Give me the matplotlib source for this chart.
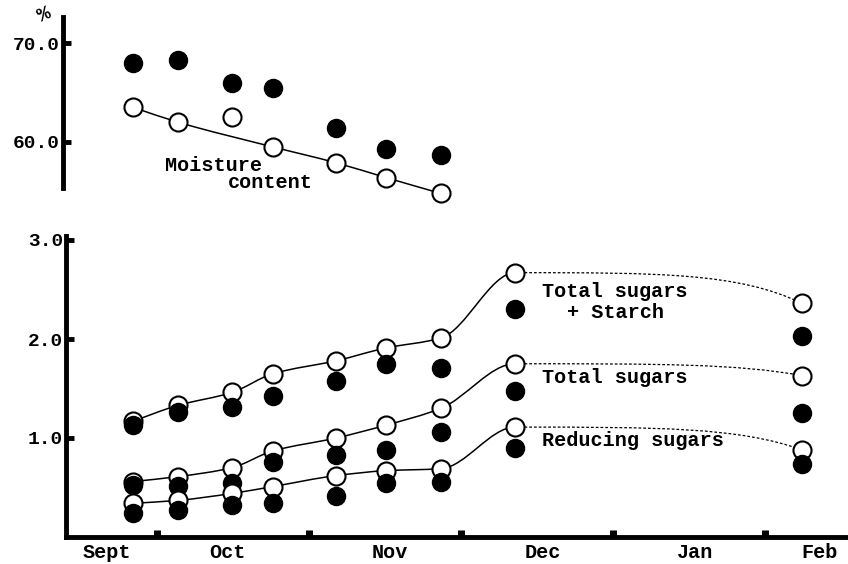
import numpy as np
import matplotlib
matplotlib.use("Agg")
import matplotlib.pyplot as plt
from matplotlib.path import Path
from matplotlib.patches import PathPatch

plt.rcParams['font.family'] = ['Liberation Mono', 'DejaVu Sans Mono']
plt.rcParams['font.weight'] = 'bold'

# x positions in "month" units: 1 = start of Oct, 2 = Nov, ... 5 = Feb
x_pts = [0.842, 1.138, 1.493, 1.763, 2.178, 2.507, 2.868]
x_late = [3.355, 5.243]   # Dec and Feb samples

moist_open = [63.5, 62.0, 62.5, 59.5, 57.9, 56.4, 54.8]
moist_fill = [68.0, 68.3, 66.0, 65.5, 61.4, 59.3, 58.7]

starch_open = [1.17, 1.33, 1.46, 1.65, 1.78, 1.91, 2.01, 2.67, 2.36]
starch_fill = [1.13, 1.26, 1.31, 1.42, 1.58, 1.75, 1.71, 2.30, 2.03]
total_open = [0.56, 0.61, 0.70, 0.87, 1.00, 1.13, 1.30, 1.75, 1.63]
total_fill = [0.53, 0.52, 0.55, 0.76, 0.83, 0.88, 1.06, 1.47, 1.25]
reduc_open = [0.34, 0.37, 0.44, 0.51, 0.62, 0.67, 0.69, 1.11, 0.88]
reduc_fill = [0.24, 0.27, 0.32, 0.34, 0.41, 0.55, 0.56, 0.90, 0.74]

months = ['Sept', 'Oct', 'Nov', 'Dec', 'Jan', 'Feb']
month_label_x = [0.671, 1.461, 2.533, 3.539, 4.539, 5.362]
month_bounds = [1, 2, 3, 4, 5]


def smooth_path(xs, ys, end_slope=None):
    # monotone cubic (pchip style) drawn as bezier segments
    xs = np.asarray(xs, float)
    ys = np.asarray(ys, float)
    h = np.diff(xs)
    s = np.diff(ys) / h
    d = np.zeros(len(xs))
    d[0] = s[0]
    d[-1] = s[-1] if end_slope is None else end_slope
    for i in range(1, len(xs) - 1):
        if s[i - 1] * s[i] <= 0:
            d[i] = 0
        else:
            w1 = 2 * h[i] + h[i - 1]
            w2 = h[i] + 2 * h[i - 1]
            d[i] = (w1 + w2) / (w1 / s[i - 1] + w2 / s[i])
    verts = [(xs[0], ys[0])]
    codes = [Path.MOVETO]
    for i in range(len(xs) - 1):
        verts += [(xs[i] + h[i] / 3, ys[i] + d[i] * h[i] / 3),
                  (xs[i + 1] - h[i] / 3, ys[i + 1] - d[i + 1] * h[i] / 3),
                  (xs[i + 1], ys[i + 1])]
        codes += [Path.CURVE4] * 3
    return Path(verts, codes)


def drop_path(x0, y0, x1, y1):
    dx = x1 - x0
    verts = [(x0, y0), (x0 + 0.5 * dx, y0), (x0 + 0.78 * dx, y0), (x1, y1)]
    return Path(verts, [Path.MOVETO] + [Path.CURVE4] * 3)


fig = plt.figure(figsize=(8.48, 5.64), dpi=100)
left = 66 / 848
width = 782 / 848
ax = fig.add_axes([left, 1 - 537 / 564, width, 3.05 * 99 / 564])
ax_top = fig.add_axes([left, 1 - 201.4 / 564, width, 19 * 9.9 / 564])

ms = 13
mew = 1.5
spine_w = 3.5

# ---- lower panel: sugars
xs_all = x_pts + x_late
for op, fi in [(starch_open, starch_fill), (total_open, total_fill), (reduc_open, reduc_fill)]:
    ax.add_patch(PathPatch(smooth_path(xs_all[:8], op[:8], end_slope=0.0),
                           fill=False, lw=1.1, color='black', zorder=2))
    ax.add_patch(PathPatch(drop_path(xs_all[7], op[7], xs_all[8], op[8]),
                           fill=False, lw=0.9, color='black',
                           linestyle=(0, (2.2, 1.6)), zorder=2))
    ax.plot(xs_all, op, 'o', ms=ms, mfc='white', mec='black', mew=mew,
            zorder=3, clip_on=False)
    ax.plot(xs_all, fi, 'o', ms=ms, color='black', zorder=3, clip_on=False)

ax.set_xlim(0.401, 5.546)
ax.set_ylim(0, 3.05)
for sp in ['top', 'right']:
    ax.spines[sp].set_visible(False)
ax.spines['left'].set_linewidth(spine_w)
ax.spines['bottom'].set_linewidth(spine_w)
ax.spines['left'].set_bounds(0, 3.04)
ax.set_yticks([1.0, 2.0, 3.0])
ax.set_yticklabels(['1.0', '2.0', '3.0'])
ax.tick_params(axis='y', direction='in', length=6, width=3.5, pad=2, labelsize=14)
ax.set_xticks(month_bounds)
ax.set_xticklabels([])
ax.tick_params(axis='x', which='major', direction='in', length=5, width=5)
ax.set_xticks(month_label_x, minor=True)
ax.set_xticklabels(months, minor=True)
ax.tick_params(axis='x', which='minor', length=0, pad=4, labelsize=14.5)

ax.text(3.533, 2.475, 'Total sugars', fontsize=14.5, va='center', ha='left')
ax.text(3.697, 2.263, '+ Starch', fontsize=14.5, va='center', ha='left')
ax.text(3.533, 1.616, 'Total sugars', fontsize=14.5, va='center', ha='left')
ax.text(3.533, 0.970, 'Reducing sugars', fontsize=14.5, va='center', ha='left')

# ---- upper panel: moisture
line_idx = [0, 1, 3, 4, 5, 6]
ax_top.add_patch(PathPatch(smooth_path([x_pts[i] for i in line_idx],
                                       [moist_open[i] for i in line_idx]),
                           fill=False, lw=1.1, color='black', zorder=2))
ax_top.plot(x_pts, moist_open, 'o', ms=ms, mfc='white', mec='black', mew=mew,
            zorder=3, clip_on=False)
ax_top.plot(x_pts, moist_fill, 'o', ms=ms, color='black', zorder=3, clip_on=False)
ax_top.set_xlim(0.401, 5.546)
ax_top.set_ylim(54, 73)
for sp in ['top', 'right', 'bottom']:
    ax_top.spines[sp].set_visible(False)
ax_top.spines['left'].set_linewidth(spine_w)
ax_top.spines['left'].set_bounds(55.4, 72.6)
ax_top.spines['left'].set_position(('outward', 2.2))
ax_top.set_xticks([])
ax_top.set_yticks([60, 70])
ax_top.set_yticklabels(['60.0', '70.0'])
ax_top.tick_params(axis='y', direction='in', length=6, width=3.5, pad=2, labelsize=14)
ax_top.text(1.053, 57.58, 'Moisture', fontsize=14.5, va='center', ha='left')
ax_top.text(1.467, 55.86, 'content', fontsize=14.5, va='center', ha='left')

fig.text(44 / 848, 1 - 14 / 564, '%', fontsize=15, rotation=25,
         ha='center', va='center')

fig.savefig('out.png', dpi=100)
